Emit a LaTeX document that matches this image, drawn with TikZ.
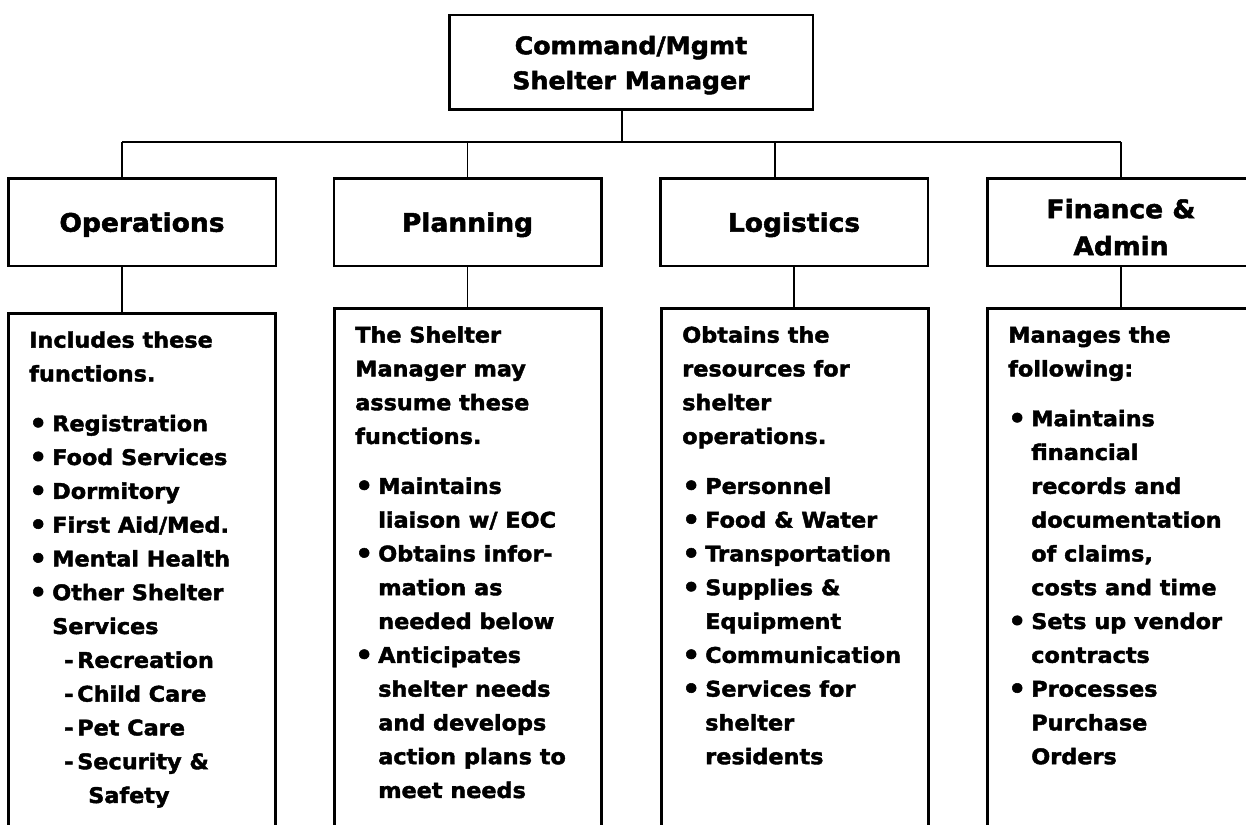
\documentclass[tikz,border=0pt]{standalone}
\usepackage{fontspec}
\setmainfont{DejaVu Sans}[FakeStretch=1.04, BoldFeatures={FakeBold=2}]
\usetikzlibrary{positioning,calc}

% list helpers for the duty boxes
\newcommand{\itm}{\makebox[23pt][l]{\raisebox{-1.5pt}{\fontsize{27}{0}\selectfont •}}}
\newcommand{\cnt}{\hspace*{23pt}}
\newcommand{\dsh}{\hspace*{35pt}\makebox[13pt][l]{-}}
\newcommand{\dcnt}{\hspace*{59pt}}
\newcommand{\duty}[1]{\parbox[t][560pt][t]{225pt}{\raggedright\fontsize{21.5}{33.8}\selectfont #1}}

\tikzset{
  chief/.style={draw, line width=2.5pt, minimum width=363.5pt, minimum height=94.5pt,
    align=center, text depth=0pt, font=\bfseries\fontsize{24.3}{35}\selectfont},
  branch/.style={draw, line width=2.5pt, minimum width=267.5pt, minimum height=87.5pt,
    align=center, text depth=0pt, font=\bfseries\fontsize{25.5}{37}\selectfont},
  duties/.style={draw, line width=2.5pt, anchor=north west, inner xsep=21pt,
    inner ysep=18pt, font=\bfseries},
  link/.style={line width=1.5pt},
}

\begin{document}
\begin{tikzpicture}[x=1pt,y=-1pt]
  \useasboundingbox (0,0) rectangle (1246,824);
  \clip (0,0) rectangle (1246,824);
  %top
  \node[chief] (chief) at (631,62.5) {Command/Mgmt\\Shelter Manager};
  \coordinate (busL) at (122,142);
  \coordinate (busR) at (1121,142);
  %second row
  \node[branch] (ops) at (142,222) {Operations};
  \node[branch] (plan) at (467.5,222) {Planning};
  \node[branch] (logi) at (794,222) {Logistics};
  \node[branch] (fin) at (1121,222) {};
  \node[branch, draw=none] (fintxt) at (1121,227) {Finance \&\\Admin};
  %duty boxes
  \node[duties] (dops) at (7,312) {\duty{%
    Includes these\\
    functions.\\[16pt]
    \itm Registration\\
    \itm Food Services\\
    \itm Dormitory\\
    \itm First Aid/Med.\\
    \itm Mental Health\\
    \itm Other Shelter\\
    \cnt Services\\
    \dsh Recreation\\
    \dsh Child Care\\
    \dsh Pet Care\\
    \dsh Security \&\\
    \dcnt Safety}};
  \node[duties] (dplan) at (333,307) {\duty{%
    The Shelter\\
    Manager may\\
    assume these\\
    functions.\\[16pt]
    \itm Maintains\\
    \cnt liaison w/ EOC\\
    \itm Obtains infor-\\
    \cnt mation as\\
    \cnt needed below\\
    \itm Anticipates\\
    \cnt shelter needs\\
    \cnt and develops\\
    \cnt action plans to\\
    \cnt meet needs}};
  \node[duties] (dlogi) at (660,307) {\duty{%
    Obtains the\\
    resources for\\
    shelter\\
    operations.\\[16pt]
    \itm Personnel\\
    \itm Food \& Water\\
    \itm Transportation\\
    \itm Supplies \&\\
    \cnt Equipment\\
    \itm Communication\\
    \itm Services for\\
    \cnt shelter\\
    \cnt residents}};
  \node[duties] (dfin) at (986,307) {\duty{%
    Manages the\\
    following:\\[16pt]
    \itm Maintains\\
    \cnt financial\\
    \cnt records and\\
    \cnt documentation\\
    \cnt of claims,\\
    \cnt costs and time\\
    \itm Sets up vendor\\
    \cnt contracts\\
    \itm Processes\\
    \cnt Purchase\\
    \cnt Orders}};
  %connectors
  \draw[link] ([xshift=-9pt]chief.south) -- ([xshift=-9pt]chief.south |- busL);
  \draw[link] (busL) -- (busR);
  \foreach \s/\d in {ops/-20,plan/0,logi/-19,fin/0}
    \draw[link] ([xshift=\d pt]\s.north |- busL) -- ([xshift=\d pt]\s.north);
  \foreach \s/\d in {ops/-20,plan/0,logi/0,fin/0}
    \draw[link] ([xshift=\d pt]\s.south) -- ([xshift=\d pt]\s.south |- d\s.north);
\end{tikzpicture}
\end{document}
